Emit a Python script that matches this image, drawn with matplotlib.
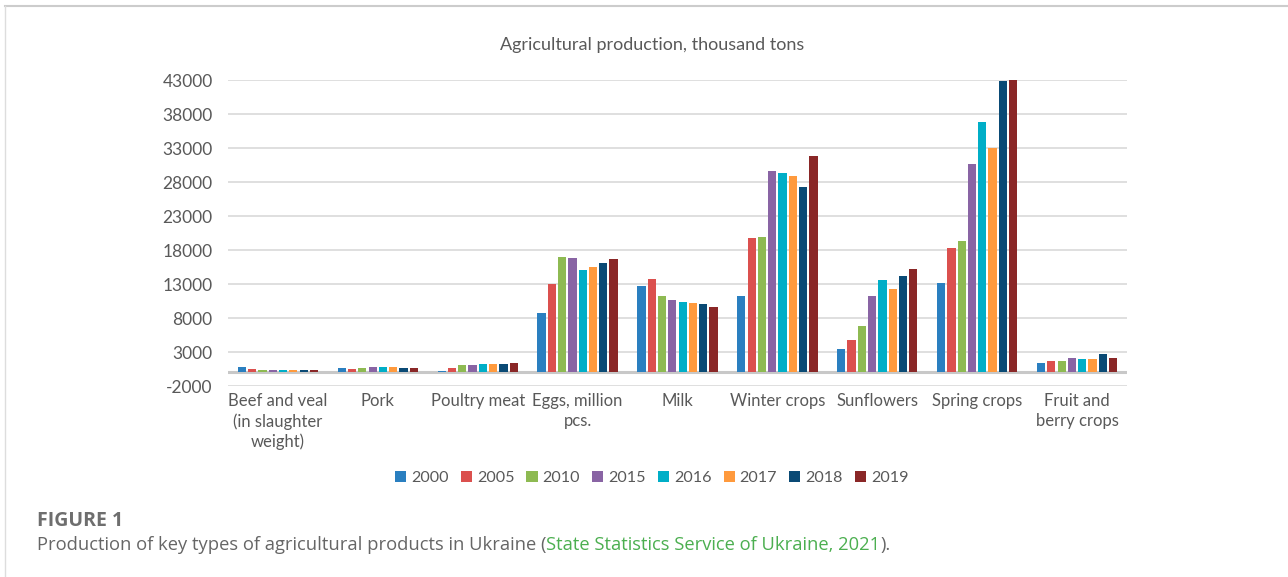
import numpy as np
import matplotlib.pyplot as plt
from matplotlib.lines import Line2D

categories = ['Beef and veal\n(in slaughter\nweight)', 'Pork', 'Poultry meat', 'Eggs, million\npcs.',
              'Milk', 'Winter crops', 'Sunflowers', 'Spring crops', 'Fruit and\nberry crops']
years = ['2000', '2005', '2010', '2015', '2016', '2017', '2018', '2019']
colors = ['#2A7FC0', '#DB504E', '#8EBA52', '#8964A4', '#00AEC7', '#FF9A3D', '#0A4A75', '#8A2727']

v2000 = [754, 676, 193, 8808, 12658, 11300, 3457, 13100, 1453]
v2005 = [562, 494, 598, 13045, 13714, 19750, 4706, 18300, 1716]
v2010 = [427, 631, 1059, 17052, 11249, 19900, 6772, 19400, 1746]
v2015 = [384, 760, 1143, 16783, 10615, 29600, 11181, 30600, 2153]
v2016 = [375, 748, 1166, 15100, 10382, 29400, 13627, 36800, 2007]
v2017 = [364, 736, 1205, 15505, 10281, 28950, 12236, 33000, 2048]
v2018 = [358, 703, 1250, 16132, 10064, 27300, 14165, 42900, 2656]
v2019 = [347, 694, 1459, 16677, 9663, 31900, 15254, 43100, 2143]
series = [v2000, v2005, v2010, v2015, v2016, v2017, v2018, v2019]

plt.rcParams['font.family'] = ['Lato', 'DejaVu Sans']
plt.rcParams['axes.unicode_minus'] = False
text_color = '#595959'
cap_font = ['Open Sans', 'DejaVu Sans']

fig = plt.figure(figsize=(12.88, 5.77), dpi=100)
ax = fig.add_axes([0.177, 0.331, 0.698, 0.530])

x = np.arange(len(categories))
slot = 0.103
for j, vals in enumerate(series):
    ax.bar(x + (j - 3.5) * slot, vals, width=slot * 0.8, color=colors[j],
           linewidth=0, label=years[j], zorder=3)

ax.set_xlim(-0.5, len(categories) - 0.5)
ax.set_ylim(-2000, 43000)
ax.set_yticks(range(-2000, 43001, 5000))
ax.yaxis.grid(True, color='#D9D9D9', linewidth=1.2, zorder=0)
ax.axhline(0, color='#C8C8C8', linewidth=2.2, zorder=2)
for s in ax.spines.values():
    s.set_visible(False)
ax.tick_params(axis='both', length=0, labelsize=12.5, labelcolor=text_color)
ax.tick_params(axis='y', pad=11)
ax.set_xticks(x)
ax.set_xticklabels(categories, linespacing=1.3, va='top', fontsize=12)
ax.tick_params(axis='x', pad=5)

fig.text(0.506, 0.922, 'Agricultural production, thousand tons', ha='center', va='center',
         fontsize=13, color=text_color)

fig.legend(loc='center', bbox_to_anchor=(0.506, 0.172), ncol=8, frameon=False,
           fontsize=11.6, handlelength=0.7, handleheight=0.7, handletextpad=0.3,
           columnspacing=0.75, labelcolor=text_color)

# frame lines around the chart
fig.add_artist(Line2D([5 / 1288, 1], [1 - 6 / 577, 1 - 6 / 577], color='#CCCCCC', linewidth=1.5))
fig.add_artist(Line2D([5 / 1288, 5 / 1288], [0, 1 - 6 / 577], color='#DDDDDD', linewidth=1))

# caption
fig.text(37 / 1288, 1 - 521 / 577, 'FIGURE 1', ha='left', va='center', fontsize=14,
         fontweight='bold', color='#6E6E6E', family=cap_font)
t1 = fig.text(37 / 1288, 1 - 545 / 577, 'Production of key types of agricultural products in Ukraine (',
              ha='left', va='center', fontsize=13.2, color='#666666', family=cap_font)
fig.canvas.draw()
r = fig.canvas.get_renderer()
bb = t1.get_window_extent(r)
t2 = fig.text(bb.x1 / fig.bbox.width, 1 - 545 / 577, 'State Statistics Service of Ukraine, 2021',
              ha='left', va='center', fontsize=13.2, color='#4CAF50', family=cap_font)
bb2 = t2.get_window_extent(r)
fig.text(bb2.x1 / fig.bbox.width, 1 - 545 / 577, ').', ha='left', va='center', fontsize=13.2,
         color='#666666', family=cap_font)

fig.savefig('out.png', dpi=100)
